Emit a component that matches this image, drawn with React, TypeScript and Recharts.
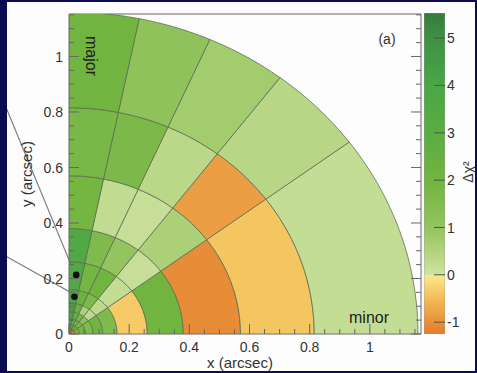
import React from 'react';
import { ComposedChart, Scatter, XAxis, YAxis, ReferenceLine } from 'recharts';

// Radial bin edges (arcsec) and position-angle bin edges (deg, from the minor axis)
const ringEdges = [0, 0.02, 0.035, 0.055, 0.08, 0.112, 0.16, 0.26, 0.38, 0.57, 0.815, 1.16];
const angleEdges = [0, 36.6, 52.8, 66.2, 78.4, 90];

// Δχ² per cell, one row per ring (inner to outer), one value per angle bin
const ring01 = [-1.1, -1.1, -1.1, -1.1, -1.1];
const ring02 = [1.8, 1.8, 2.0, 2.4, 3.8];
const ring03 = [1.9, 1.6, 2.0, 2.6, 4.0];
const ring04 = [1.6, 1.2, 1.8, 2.6, 4.2];
const ring05 = [2.0, 0.3, 0.6, 2.4, 4.3];
const ring06 = [1.6, 0.3, 1.6, 2.3, 4.0];
const ring07 = [-0.35, 0.2, 2.0, 1.9, 3.7];
const ring08 = [2.0, 0.15, 1.0, 1.6, 3.6];
const ring09 = [-1.05, 0.6, 0.15, 0.25, 1.9];
const ring10 = [-0.4, -0.85, 0.35, 1.7, 1.8];
const ring11 = [0.2, 0.4, 0.75, 1.1, 2.0];
const ringValues = [ring01, ring02, ring03, ring04, ring05, ring06, ring07, ring08, ring09, ring10, ring11];

// axis ticks every 0.05, labelled every 0.2
const axisTicks = [0, 0.05, 0.1, 0.15, 0.2, 0.25, 0.3, 0.35, 0.4, 0.45, 0.5, 0.55, 0.6, 0.65, 0.7, 0.75, 0.8, 0.85, 0.9, 0.95, 1, 1.05, 1.1, 1.15];
const labelledTicks = [0, 0.2, 0.4, 0.6, 0.8, 1];
const barTicks = [-1, 0, 1, 2, 3, 4, 5];

// marked positions and the pointer lines running to them
const nuclei = [{ x: 0.024, y: 0.213 }, { x: 0.018, y: 0.134 }];
const pointerA = [{ x: -0.229, y: 0.868 }, { x: 0.01, y: 0.241 }];
const pointerB = [{ x: -0.229, y: 0.292 }, { x: 0.003, y: 0.151 }];

const X_DOMAIN: [number, number] = [0, 1.17];
const Y_DOMAIN: [number, number] = [0, 1.153];
const BAR_DOMAIN: [number, number] = [-1.25, 5.53];

const NAVY = '#0a0b52';
const INK = '#333';
const FRAME = '#666';
const EDGE = '#5a6a4e';
const FONT = '"Liberation Sans", Arial, sans-serif';

// colour map: orange->yellow below zero, light->dark green above
const colorStops: [number, string][] = [
  [-1.25, '#e37a29'],
  [-1, '#e8903a'],
  [-0.5, '#f2bd58'],
  [0, '#fbe98b'],
  [0, '#cfe3a2'],
  [0.5, '#b2d37e'],
  [1, '#93c45e'],
  [2, '#72b440'],
  [3, '#5aad43'],
  [4, '#4ba647'],
  [5, '#3e9144'],
  [5.53, '#367a3d'],
];

function hex(c: string) {
  return [1, 3, 5].map((i) => parseInt(c.slice(i, i + 2), 16));
}

function mix(a: string, b: string, t: number) {
  const ca = hex(a);
  const cb = hex(b);
  const out = ca.map((v, i) => Math.round(v + (cb[i] - v) * t));
  return `rgb(${out.join(',')})`;
}

function colorFor(v: number) {
  const stops = v < 0 ? colorStops.slice(0, 4) : colorStops.slice(4);
  if (v <= stops[0][0]) return stops[0][1];
  for (let i = 1; i < stops.length; i++) {
    const [v1, c1] = stops[i];
    const [v0, c0] = stops[i - 1];
    if (v <= v1) return mix(c0, c1, (v - v0) / (v1 - v0 || 1));
  }
  return stops[stops.length - 1][1];
}

// outline of one annular sector in data coordinates
function sectorOutline(r0: number, r1: number, a0: number, a1: number) {
  const pts: { x: number; y: number }[] = [];
  const n = Math.max(2, Math.ceil(a1 - a0));
  const rad = Math.PI / 180;
  for (let k = 0; k <= n; k++) {
    const a = (a0 + ((a1 - a0) * k) / n) * rad;
    pts.push({ x: r1 * Math.cos(a), y: r1 * Math.sin(a) });
  }
  if (r0 > 0) {
    for (let k = n; k >= 0; k--) {
      const a = (a0 + ((a1 - a0) * k) / n) * rad;
      pts.push({ x: r0 * Math.cos(a), y: r0 * Math.sin(a) });
    }
  } else {
    pts.push({ x: 0, y: 0 });
  }
  pts.push(pts[0]);
  return pts;
}

const cells = ringValues.flatMap((row, i) =>
  row.map((v, j) => ({
    key: `${i}-${j}`,
    color: colorFor(v),
    points: sectorOutline(ringEdges[i], ringEdges[i + 1], angleEdges[j], angleEdges[j + 1]),
  })),
);

// the colour bar is one rectangle spanning the whole Δχ² range
const barOutline = [
  { x: 0, y: BAR_DOMAIN[0] },
  { x: 1, y: BAR_DOMAIN[0] },
  { x: 1, y: BAR_DOMAIN[1] },
  { x: 0, y: BAR_DOMAIN[1] },
  { x: 0, y: BAR_DOMAIN[0] },
];

const isLabelled = (v: number) => labelledTicks.some((t) => Math.abs(t - v) < 1e-6);
const fmt = (v: number) => String(Math.round(v * 10) / 10);
const textProps = { fill: INK, fontSize: 14, fontFamily: FONT };

// ticks point into the frame: long at labelled values, short elsewhere
function makeTick(side: 'left' | 'right' | 'top' | 'bottom', withLabel: boolean) {
  return (props: any) => {
    const { x, y, payload } = props;
    const v = payload.value as number;
    const major = isLabelled(v);
    const len = major ? 10 : 5;
    let line;
    if (side === 'left') line = <line x1={x} x2={x + len} y1={y} y2={y} />;
    else if (side === 'right') line = <line x1={x} x2={x - len} y1={y} y2={y} />;
    else if (side === 'top') line = <line x1={x} x2={x} y1={y} y2={y + len} />;
    else line = <line x1={x} x2={x} y1={y} y2={y - len} />;
    return (
      <g stroke={FRAME} strokeWidth={1}>
        {line}
        {withLabel && major && side === 'left' && (
          <text x={x - 6} y={y} dy="0.36em" textAnchor="end" stroke="none" {...textProps}>{fmt(v)}</text>
        )}
        {withLabel && major && side === 'bottom' && (
          <text x={x} y={y + 18} textAnchor="middle" stroke="none" {...textProps}>{fmt(v)}</text>
        )}
      </g>
    );
  };
}

function barTick(props: any) {
  const { x, y, payload } = props;
  return (
    <g>
      <line x1={x - 11} x2={x} y1={y} y2={y} stroke="#4a5a44" strokeWidth={1} />
      <text x={x + 2} y={y} dy="0.36em" textAnchor="start" {...textProps}>{payload.value}</text>
    </g>
  );
}

function SectorMap() {
  return (
    <ComposedChart width={477} height={373} margin={{ top: 13, right: 55, bottom: 38, left: 68 }}>
      <XAxis xAxisId={0} type="number" dataKey="x" orientation="bottom" height={1}
        domain={X_DOMAIN} allowDataOverflow ticks={axisTicks} interval={0}
        tickSize={0} tickMargin={0} tickLine={false} tick={makeTick('bottom', true)} stroke={FRAME} />
      <XAxis xAxisId="top" type="number" orientation="top" height={1}
        domain={X_DOMAIN} allowDataOverflow ticks={axisTicks} interval={0}
        tickSize={0} tickMargin={0} tickLine={false} tick={makeTick('top', false)} stroke={FRAME} />
      <YAxis yAxisId={0} type="number" dataKey="y" orientation="left" width={1}
        domain={Y_DOMAIN} allowDataOverflow ticks={axisTicks} interval={0}
        tickSize={0} tickMargin={0} tickLine={false} tick={makeTick('left', true)} stroke={FRAME} />
      <YAxis yAxisId="right" type="number" orientation="right" width={1}
        domain={Y_DOMAIN} allowDataOverflow ticks={axisTicks} interval={0}
        tickSize={0} tickMargin={0} tickLine={false} tick={makeTick('right', false)} stroke={FRAME} />

      {cells.map((c) => (
        <Scatter key={c.key} data={c.points} fill="none" isAnimationActive={false}
          legendType="none" lineType="joint" lineJointType="linear"
          line={{ fill: c.color, stroke: EDGE, strokeWidth: 0.9, strokeOpacity: 0.85 }}
          shape={() => <g />} />
      ))}

      <ReferenceLine segment={pointerA} ifOverflow="visible" stroke="#7a7a7a" strokeWidth={1.2} />
      <ReferenceLine segment={pointerB} ifOverflow="visible" stroke="#7a7a7a" strokeWidth={1.2} />

      <Scatter data={nuclei} fill="#111" isAnimationActive={false} legendType="none"
        shape={(p: any) => <circle cx={p.cx} cy={p.cy} r={3.3} fill="#111" />} />
    </ComposedChart>
  );
}

function ColorBar() {
  const span = BAR_DOMAIN[1] - BAR_DOMAIN[0];
  const gradient = [...colorStops].reverse().map(([v, c], i) => (
    <stop key={i} offset={(BAR_DOMAIN[1] - v) / span} stopColor={c} />
  ));
  return (
    <ComposedChart width={477} height={373} margin={{ top: 13, right: 31, bottom: 39, left: 424 }}>
      <defs>
        <linearGradient id="dchi2" x1="0" y1="0" x2="0" y2="1">
          {gradient}
        </linearGradient>
      </defs>
      <XAxis type="number" dataKey="x" domain={[0, 1]} hide allowDataOverflow />
      <YAxis type="number" dataKey="y" orientation="right" width={1} domain={BAR_DOMAIN}
        allowDataOverflow ticks={barTicks} interval={0} axisLine={false}
        tickSize={0} tickMargin={0} tickLine={false} tick={barTick} />
      <Scatter data={barOutline} fill="none" isAnimationActive={false} legendType="none"
        lineType="joint" lineJointType="linear"
        line={{ fill: 'url(#dchi2)', stroke: '#9a9a9a', strokeWidth: 0.6 }}
        shape={() => <g />} />
    </ComposedChart>
  );
}

const abs: React.CSSProperties = { position: 'absolute', left: 0, top: 0 };
const label: React.CSSProperties = {
  position: 'absolute',
  fontFamily: FONT,
  color: INK,
  whiteSpace: 'nowrap',
  lineHeight: 1,
};

export default function App() {
  return (
    <div style={{ ...abs, width: 477, height: 373, background: NAVY }}>
      <div style={{ position: 'absolute', left: 7, top: 2, width: 468, height: 369, background: '#fdfdfd', overflow: 'hidden' }}>
        <div style={{ position: 'absolute', left: -7, top: -2, width: 477, height: 373 }}>
          <div style={abs}><SectorMap /></div>
          <div style={abs}><ColorBar /></div>
          <div style={{ ...label, fontSize: 15, left: 240, top: 362, transform: 'translate(-50%, -50%)' }}>x (arcsec)</div>
          <div style={{ ...label, fontSize: 15, left: 26, top: 174, transform: 'translate(-50%, -50%) rotate(-90deg)' }}>y (arcsec)</div>
          <div style={{ ...label, fontSize: 14, left: 468, top: 172, transform: 'translate(-50%, -50%) rotate(-90deg)' }}>Δχ²</div>
          <div style={{ ...label, fontSize: 16, color: '#222', left: 91, top: 56, transform: 'translate(-50%, -50%) rotate(90deg)' }}>major</div>
          <div style={{ ...label, fontSize: 16, color: '#222', left: 369, top: 318, transform: 'translate(-50%, -50%)' }}>minor</div>
          <div style={{ ...label, fontSize: 14, left: 387, top: 39, transform: 'translate(-50%, -50%)' }}>(a)</div>
        </div>
      </div>
    </div>
  );
}
